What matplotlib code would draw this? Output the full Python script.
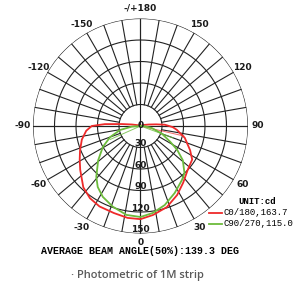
import numpy as np
import matplotlib
matplotlib.use("Agg")
import matplotlib.pyplot as plt

# C0/180 plane (gamma angle in deg, intensity in cd)
red_ang = [-180, -110, -100, -96, -93, -90, -85, -77, -68, -61, -54, -43, -35, -27, -17, -8, 0,
           8, 18, 28, 37, 47, 57, 64, 75, 84, 88, 93, 96, 100, 110, 180]
red_val = [0, 3, 12, 26, 50, 68, 76, 84, 91, 97, 104, 117, 123, 126, 127, 129.5, 130,
           125.4, 119, 109, 99, 90, 86, 77, 64, 51, 45, 34, 22, 12, 4, 0]
red_ret_ang = [77, 77]
red_ret_val = [0, 62]

# C90/270 plane
green_ang = [-90, -86, -79, -70, -61, -51, -41, -35, -28, -19, -9, 0,
             8, 17, 27, 37.5, 43, 51, 57, 62, 70, 80, 88, 90]
green_val = [0, 12, 29, 45, 60, 76, 94, 104, 112, 119, 125.6, 127,
             122.6, 115.4, 105, 95, 90, 76, 61, 47, 32, 16, 5, 0]
green_ret_ang = [-66, -66, 0, 70, 70]
green_ret_val = [46, 0, 0, 0, 48]

rings = [30, 60, 90, 120, 150]
angle_ticks = [0, 30, 60, 90, 120, 150, 180, -150, -120, -90, -60, -30]
angle_labels = ["0", "30", "60", "90", "120", "150", "-/+180", "-150", "-120", "-90", "-60", "-30"]

red = "#ee2a2a"
green = "#6cbb3c"

fig = plt.figure(figsize=(2.93, 2.86), dpi=100)
ax = fig.add_axes([0.1126, 0.1836, 0.7338, 0.7517], projection="polar")
ax.set_theta_zero_location("S")
ax.set_theta_direction(1)
ax.set_ylim(0, 150)
ax.grid(False)
ax.set_xticks([])
ax.set_yticks([])
ax.spines["polar"].set_visible(False)

# grid: rings, spokes and the two axes
full = np.linspace(0, 2 * np.pi, 361)
for r in rings:
    ax.plot(full, np.full_like(full, r), color="#222222", lw=0.8)
for a in range(0, 360, 10):
    ax.plot([np.deg2rad(a)] * 2, [30, 150], color="#222222", lw=0.8)
for a in [0, 90, 180, 270]:
    ax.plot([np.deg2rad(a)] * 2, [0, 150], color="#222222", lw=0.8)

# curves
ax.plot(np.deg2rad(red_ret_ang), red_ret_val, color=red, lw=0.7, alpha=0.7)
ax.plot(np.deg2rad(green_ret_ang), green_ret_val, color=green, lw=0.7, alpha=0.8)
ax.plot(np.deg2rad(red_ang), red_val, color=red, lw=1.3)
ax.plot(np.deg2rad(green_ang), green_val, color=green, lw=1.3)

# labels
lab_kw = dict(ha="center", va="center", fontsize=6.5, weight="bold", color="#1a1a1a")
for a, lab in zip(angle_ticks, angle_labels):
    r_lab = 163 if a == 0 else 164
    ax.text(np.deg2rad(a), r_lab, lab, **lab_kw)
ax.text(0, 0, "0", **lab_kw)
for r in rings:
    ax.text(0, r - 5, str(r), **lab_kw)

mono = "Liberation Mono"
fig.text(0.812, 0.296, "UNIT:cd", family=mono, weight="bold", fontsize=6.5, ha="left", va="center")
fig.lines.append(plt.Line2D([0.712, 0.757], [0.255, 0.255], color=red, lw=1.3, transform=fig.transFigure))
fig.lines.append(plt.Line2D([0.712, 0.757], [0.217, 0.217], color=green, lw=1.3, transform=fig.transFigure))
fig.text(0.762, 0.258, "C0/180,163.7", family=mono, fontsize=6.5, ha="left", va="center")
fig.text(0.762, 0.220, "C90/270,115.0", family=mono, fontsize=6.5, ha="left", va="center")

fig.text(0.478, 0.121, "AVERAGE BEAM ANGLE(50%):139.3 DEG", family=mono, weight="bold",
         fontsize=7.2, ha="center", va="center")
fig.text(0.468, 0.038, "\u00b7 Photometric of 1M strip", family="Open Sans", weight="semibold",
         fontsize=8, color="#5a5a5a", ha="center", va="center")

fig.savefig("out.png", dpi=100)
